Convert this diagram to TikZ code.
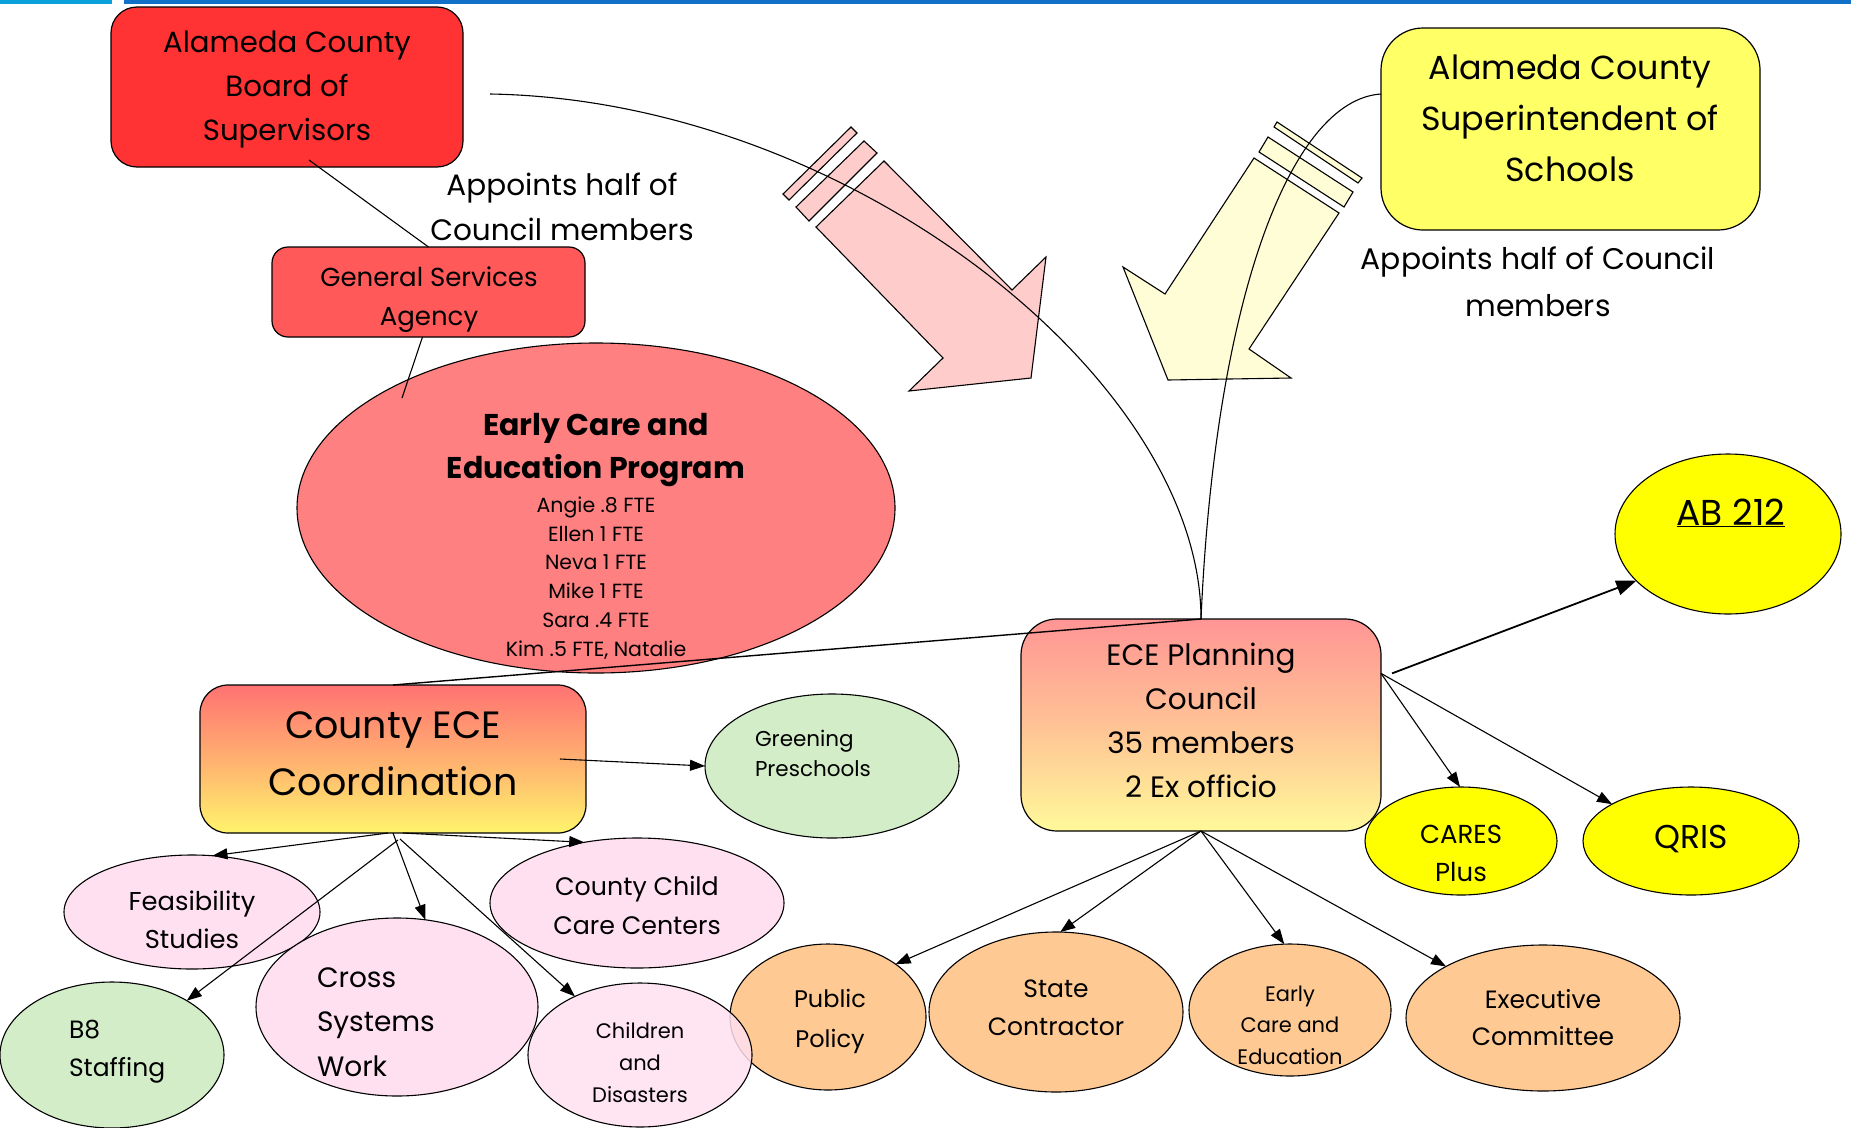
\documentclass[tikz,border=0pt]{standalone}
\usepackage{fontspec}
\setmainfont{Poppins}
\usetikzlibrary{shapes.geometric,arrows.meta}
\newcommand\fsz[2]{\fontsize{#1}{#2}\selectfont}
\definecolor{lblue}{HTML}{0AA0DC}
\definecolor{dblue}{HTML}{1170C8}
\definecolor{boardred}{HTML}{FF3333}
\definecolor{gsared}{HTML}{FF5959}
\definecolor{ecered}{HTML}{FF8080}
\definecolor{supty}{HTML}{FFFF66}
\definecolor{pinkarr}{HTML}{FFCCCC}
\definecolor{yelarr}{HTML}{FFFDD6}
\definecolor{greenf}{HTML}{D2EDC8}
\definecolor{pinkf}{HTML}{FFE0F0}
\definecolor{orangef}{HTML}{FFC994}
\definecolor{yellowf}{HTML}{FFFF00}
\definecolor{cotop}{HTML}{FF7272}
\definecolor{comid}{HTML}{FFB070}
\definecolor{cobot}{HTML}{FFF46C}
\definecolor{pctop}{HTML}{FF9595}
\definecolor{pcmid}{HTML}{FFC295}
\definecolor{pcbot}{HTML}{FFF99A}
\begin{document}
\begin{tikzpicture}[x=1pt,y=-1pt,
  box/.style={draw=black,line width=1.2pt,rectangle,inner sep=0pt,outer sep=0pt},
  oval/.style={draw=black,line width=1.1pt,ellipse,inner sep=0pt,outer sep=0pt},
  txt/.style={inner sep=0pt,outer sep=0pt,align=center},
  ltxt/.style={inner sep=0pt,outer sep=0pt,align=left,anchor=west},
  conn/.style={line width=1.1pt},
  arr/.style={conn,-{Triangle[length=15pt,width=11pt]}},
  bigarr/.style={line width=1.8pt,-{Triangle[length=20pt,width=15pt]}},
  blockarr/.style={draw=black,line width=1.1pt,line join=miter}
]
\useasboundingbox (0,0) rectangle (1851,1127);
\fill[white] (0,0) rectangle (1851,1127);
% top bars
\fill[lblue] (0,0) rectangle (112,4);
\fill[dblue] (124,0) rectangle (1851,4);

% block arrows
\draw[blockarr,fill=pinkarr] (884,161) -- (1012,290) -- (1046,257) -- (1031,378) -- (909,391) -- (943,358) -- (816,227) -- cycle;
\draw[blockarr,fill=pinkarr] (796,207) -- (864,141) -- (877,153) -- (809,221) -- cycle;
\draw[blockarr,fill=pinkarr] (783,194) -- (851,127) -- (857,133) -- (789,200) -- cycle;
\draw[blockarr,fill=yelarr] (1254,158) -- (1339,213) -- (1249,349) -- (1291,378) -- (1168,380) -- (1123,267) -- (1165,294) -- cycle;
\draw[blockarr,fill=yelarr] (1259,152) -- (1268,137) -- (1353,192) -- (1344,207) -- cycle;
\draw[blockarr,fill=yelarr] (1274,127) -- (1277,122) -- (1362,178) -- (1358,183) -- cycle;

% boxes
\node[box,fill=boardred,rounded corners=26pt,minimum width=352pt,minimum height=160pt] (board) at (287,87) {};
\node[box,fill=gsared,rounded corners=16pt,minimum width=313pt,minimum height=90pt] (gsa) at (428.5,292) {};
\node[box,fill=supty,rounded corners=42pt,minimum width=379pt,minimum height=202pt] (supt) at (1570.5,129) {};
\node[oval,fill=ecered,minimum width=598pt,minimum height=330pt] (ece) at (596,508) {};
\node[box,rounded corners=28pt,top color=cotop,bottom color=cobot,middle color=comid,minimum width=386pt,minimum height=148pt] (coord) at (393,759) {};
\node[box,rounded corners=36pt,top color=pctop,bottom color=pcbot,middle color=pcmid,minimum width=360pt,minimum height=212pt] (pc) at (1201,725) {};

% ellipses
\node[oval,fill=greenf,minimum width=254pt,minimum height=144pt] (green) at (832,766) {};
\node[oval,fill=pinkf,minimum width=256pt,minimum height=114pt] (feas) at (192,912) {};
\node[oval,fill=pinkf,minimum width=294pt,minimum height=130pt] (ccc) at (637,903) {};
\node[oval,fill=pinkf,minimum width=282pt,minimum height=178pt] (cross) at (397,1007) {};
\node[oval,fill=greenf,minimum width=224pt,minimum height=146pt] (b8) at (112,1055) {};
\node[oval,fill=orangef,minimum width=196pt,minimum height=146pt] (pub) at (828,1017) {};
\node[oval,fill=pinkf,fill opacity=0.85,minimum width=224pt,minimum height=144pt] (chd) at (640,1055) {};
\node[oval,fill=orangef,minimum width=254pt,minimum height=160pt] (state) at (1056,1012) {};
\node[oval,fill=orangef,minimum width=202pt,minimum height=132pt] (early) at (1290,1010) {};
\node[oval,fill=orangef,minimum width=274pt,minimum height=146pt] (exec) at (1543,1018) {};
\node[oval,fill=yellowf,minimum width=192pt,minimum height=108pt] (cares) at (1461,841) {};
\node[oval,fill=yellowf,minimum width=216pt,minimum height=108pt] (qris) at (1691,841) {};
\node[oval,fill=yellowf,minimum width=226pt,minimum height=160pt] (ab) at (1728,534) {};

% connectors
\coordinate (gsaend) at (402,398);
\draw[conn] ([shift={(22pt,7pt)}]board.south) -- (gsa.north);
\draw[conn] ([xshift=-6pt]gsa.south) -- (gsaend);
\draw[line width=1.4pt] (coord.north) -- (pc.north);
\draw[conn] ([shift={(27pt,-7pt)}]board.east) .. controls (850,100) and (1201,380) .. (pc.north);
\draw[conn] ([yshift=35pt]supt.west) .. controls (1290,100) and (1215,300) .. (pc.north);

\draw[arr] ([xshift=-26pt]coord.east) -- (green.west);
\draw[arr] ([xshift=-5pt]coord.south) -- (feas.70);
\draw[arr] ([xshift=10pt]coord.south) -- (ccc.131);
\draw[arr] (coord.south) -- (cross.72);
\draw[arr] ([shift={(5pt,-7pt)}]coord.south) -- (b8.36);
\draw[arr] ([shift={(7pt,-6pt)}]coord.south) -- (chd.138);

\draw[arr] (pc.south) -- (pub.38);
\draw[arr] (pc.south) -- (state.87);
\draw[arr] (pc.south) -- (early.95);
\draw[arr] (pc.south) -- (exec.152);
\draw[arr] (pc.16) -- (cares.91);
\draw[arr] (pc.16) -- (qris.155);
\draw[bigarr] ([xshift=11pt]pc.16) -- (ab.207);

% texts
\node[txt,font=\fsz{29.2}{44}] (boardt) at (287,89) {Alameda County\\Board of\\Supervisors};
\node[txt,font=\fsz{29.5}{45}] (appl) at (562,207) {Appoints half of\\Council members};
\node[txt,font=\fsz{26}{39}] (gsat) at (429,300) {General Services\\Agency};
\node[txt,font=\fsz{30}{43}\bfseries] (ecet) at (596,450) {Early Care and\\Education Program};
\node[txt,font=\fsz{20.5}{28.8}] (ecestaff) at (596,578) {Angie .8 FTE\\Ellen 1 FTE\\Neva 1 FTE\\Mike 1 FTE\\Sara .4 FTE\\Kim .5 FTE, Natalie};
\node[txt,font=\fsz{33.3}{51}] (suptt) at (1570,118) {Alameda County\\Superintendent of\\Schools};
\node[txt,font=\fsz{29.8}{47}] (appr) at (1538,282) {Appoints half of Council\\members};
\node[txt,font=\fsz{38}{57}] (coordt) at (393,754) {County ECE\\Coordination};
\node[txt,font=\fsz{29.5}{44}] (pct) at (1201,720) {ECE Planning\\Council\\35 members\\2 Ex officio};
\node[ltxt,font=\fsz{21.5}{30}] (greent) at (755,753) {Greening\\Preschools};
\node[txt,font=\fsz{25.8}{38}] (feast) at (192,920) {Feasibility\\Studies};
\node[txt,font=\fsz{25.3}{39}] (ccct) at (637,905) {County Child\\Care Centers};
\node[ltxt,font=\fsz{28}{44.5}] (crosst) at (317,1022) {Cross\\Systems\\Work};
\node[ltxt,font=\fsz{25}{38}] (b8t) at (69,1052) {B8\\Staffing};
\node[txt,font=\fsz{21}{32}] (chdt) at (640,1063) {Children\\and\\Disasters};
\node[txt,font=\fsz{24}{40}] (pubt) at (830,1021) {Public\\Policy};
\node[txt,font=\fsz{25}{38}] (statet) at (1056,1008) {State\\Contractor};
\node[txt,font=\fsz{21}{31.5}] (earlyt) at (1290,1025) {Early\\Care and\\Education};
\node[txt,font=\fsz{25}{37}] (exect) at (1543,1018) {Executive\\Committee};
\node[txt,font=\fsz{26}{38}] (carest) at (1461,853) {CARES\\Plus};
\node[txt,font=\fsz{33}{38}] (qrist) at (1691,839) {QRIS};
\node[txt,font=\fsz{36}{38}] (abt) at (1731,513) {\underline{AB 212}};
\end{tikzpicture}
\end{document}
